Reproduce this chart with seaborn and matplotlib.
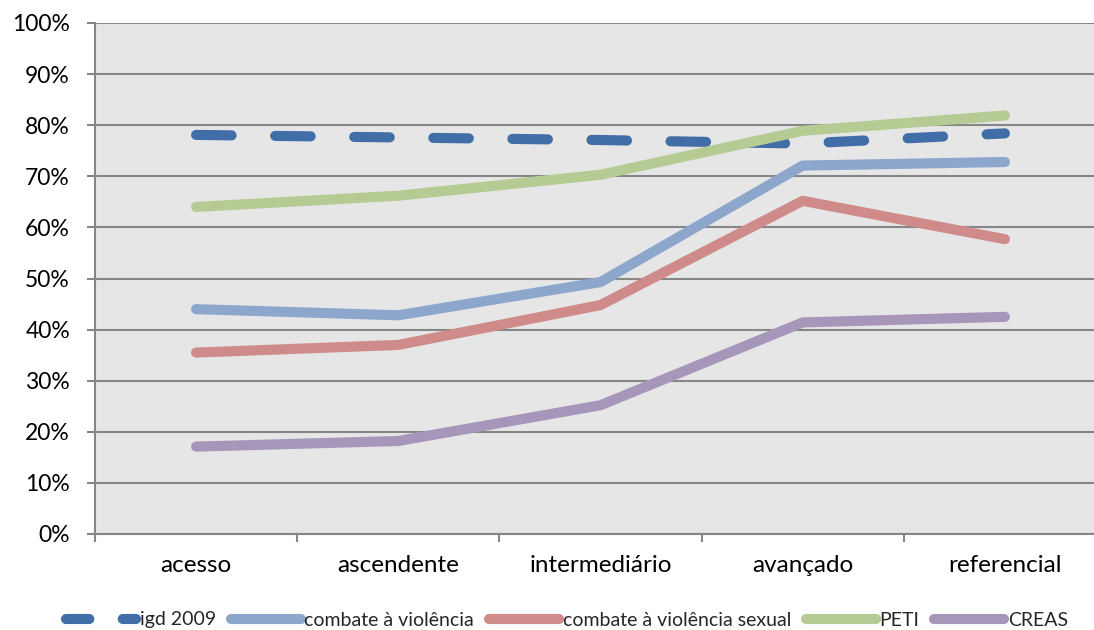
import matplotlib
matplotlib.use("Agg")
import matplotlib.pyplot as plt
import seaborn as sns
from matplotlib.ticker import FuncFormatter, FixedLocator

categories = ["acesso", "ascendente", "intermediário", "avançado", "referencial"]

igd_2009 = [78.1, 77.6, 77.1, 76.4, 78.4]
combate_violencia = [44.0, 42.8, 49.3, 72.1, 72.8]
combate_violencia_sexual = [35.5, 37.0, 44.8, 65.2, 57.7]
peti = [64.0, 66.2, 70.3, 78.9, 81.9]
creas = [17.1, 18.2, 25.2, 41.4, 42.5]

series_names = ["igd 2009", "combate à violência", "combate à violência sexual", "PETI", "CREAS"]
series_values = [igd_2009, combate_violencia, combate_violencia_sexual, peti, creas]
series_colors = ["#416ea6", "#8da6cc", "#cf8b8a", "#b5cb93", "#a696ba"]

sns.set_theme(style="white")
plt.rcParams["font.family"] = ["Lato", "DejaVu Sans"]

fig = plt.figure(figsize=(10.94, 6.30), dpi=100)
W, H = 1094, 630
ax = fig.add_axes([95 / W, (H - 534) / H, 1011 / W, 511 / H])
ax.set_facecolor("#e6e6e6")

for name, vals, col in zip(series_names, series_values, series_colors):
    style = (0, (3.5, 4.3)) if name == "igd 2009" else "-"
    sns.lineplot(x=categories, y=vals, ax=ax, color=col, linewidth=7.3,
                 linestyle=style, label=name, sort=False,
                 solid_capstyle="round", dash_capstyle="round",
                 solid_joinstyle="round", dash_joinstyle="round")

ax.set_xlim(-0.5, len(categories) - 0.5)
ax.set_ylim(0, 100)
ax.set_yticks(range(0, 101, 10))
ax.yaxis.set_major_formatter(FuncFormatter(lambda v, p: f"{v:.0f}%"))
ax.grid(axis="y", color="#868686", linewidth=1.5)
ax.set_axisbelow(True)

ax.set_xticks(range(len(categories)))
ax.set_xticklabels(categories)
ax.xaxis.set_minor_locator(FixedLocator([i - 0.5 for i in range(len(categories) + 1)]))
ax.tick_params(axis="x", which="major", length=0, pad=15, labelsize=17.5, labelcolor="black")
ax.tick_params(axis="x", which="minor", length=6, width=1.5, color="#868686", direction="out", bottom=True)
ax.tick_params(axis="y", which="major", length=6, width=1.5, color="#868686", direction="out",
               left=True, pad=12, labelsize=16.5, labelcolor="black")

for side in ["top", "right"]:
    ax.spines[side].set_visible(False)
for side in ["left", "bottom"]:
    ax.spines[side].set_color("#868686")
    ax.spines[side].set_linewidth(1.5)

ax.set_xlabel("")
ax.set_ylabel("")

leg = ax.legend(loc="center", bbox_to_anchor=(567 / W, (H - 620) / H), bbox_transform=fig.transFigure,
                ncol=5, frameon=False, fontsize=14, handlelength=3.6,
                handletextpad=0.2, columnspacing=0.75, borderaxespad=0, borderpad=0)
# shorter dash rhythm for the legend sample of the dashed series
leg.get_lines()[0].set_linestyle((0, (2.3, 3.3)))

fig.savefig("out.png", dpi=100)
